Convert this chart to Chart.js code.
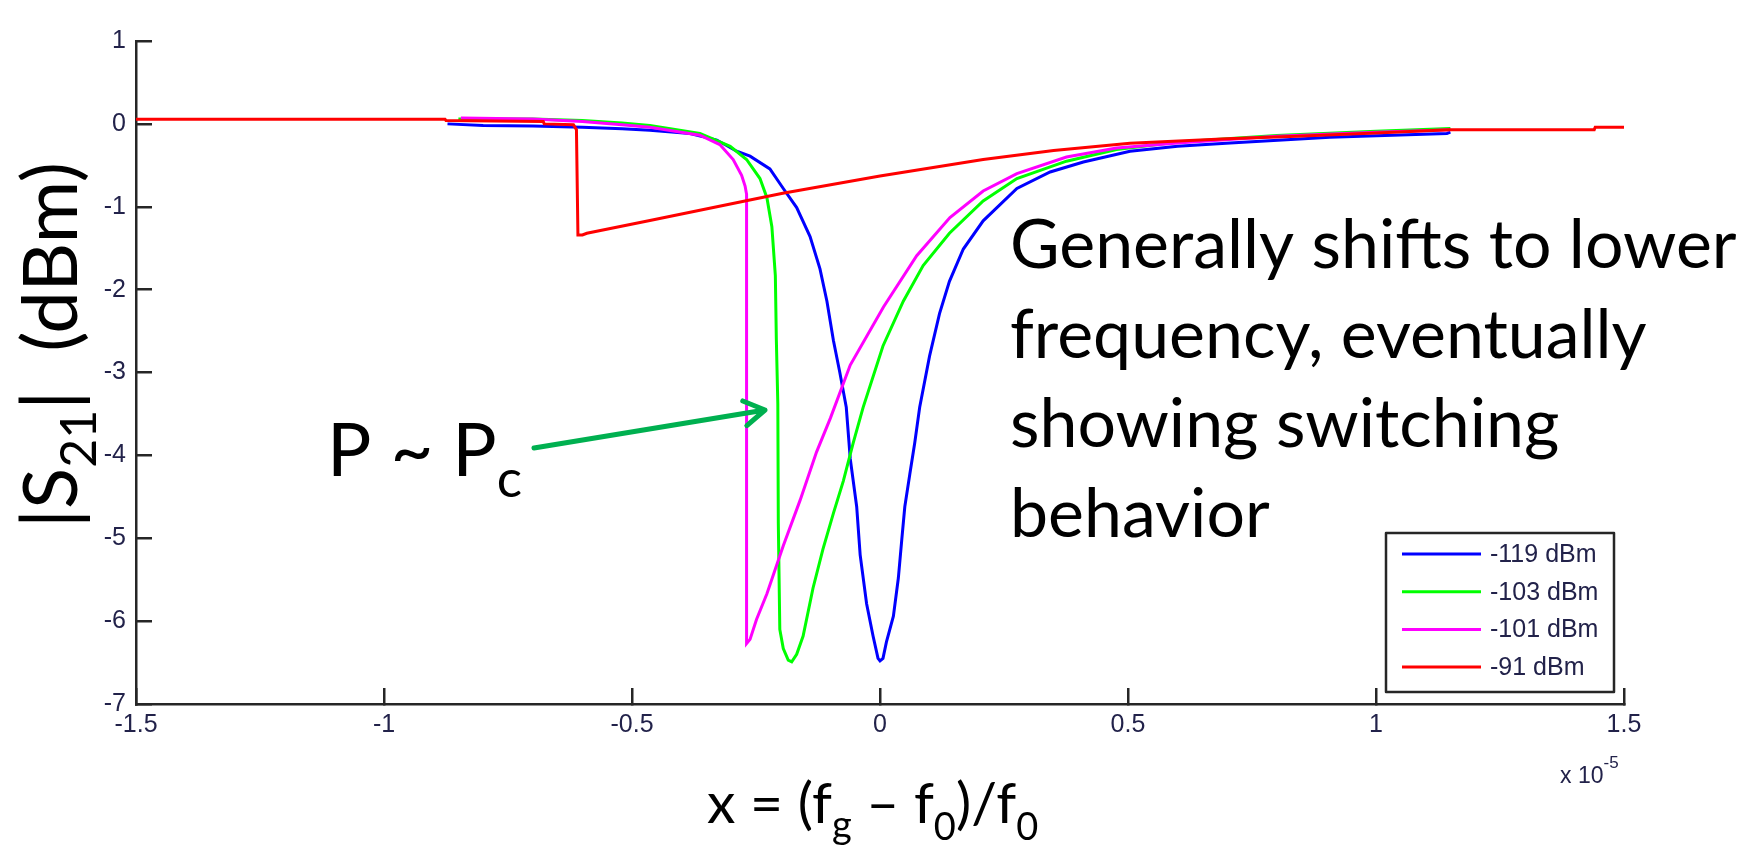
<!DOCTYPE html>
<html>
<head>
<meta charset="utf-8">
<title>|S21| vs detuning</title>
<script src="https://cdn.jsdelivr.net/npm/chart.js@4.4.1/dist/chart.umd.min.js"></script>
<style>
    html, body { margin: 0; padding: 0; background: #ffffff; }
    #chartBox { width: 1762px; height: 845px; }
</style>
</head>
<body>
<div id="chartBox"><canvas id="s21Chart" width="1762" height="845"></canvas></div>
<script>
// Values (x in units of 1e-5, y in dB)
const seriesLabels = ['-119 dBm', '-103 dBm', '-101 dBm', '-91 dBm'];
const seriesColors = ['#0000ff', '#00ff00', '#ff00ff', '#ff0000'];

const blueX = [-0.872, -0.80, -0.70, -0.60, -0.52, -0.464, -0.383, -0.329, -0.289, -0.262,
    -0.222, -0.195, -0.168, -0.141, -0.121, -0.107, -0.094, -0.081, -0.068, -0.060,
    -0.047, -0.040, -0.027, -0.014, -0.004, 0.000, 0.006, 0.013, 0.027, 0.037,
    0.044, 0.050, 0.060, 0.070, 0.080, 0.100, 0.120, 0.140, 0.168, 0.208,
    0.276, 0.343, 0.410, 0.504, 0.600, 0.706, 0.907, 1.143, 1.150];
const blueY = [0.00, -0.02, -0.025, -0.04, -0.06, -0.078, -0.117, -0.195, -0.33, -0.39,
    -0.544, -0.78, -1.01, -1.36, -1.75, -2.14, -2.61, -3.00, -3.42, -4.04,
    -4.62, -5.20, -5.79, -6.18, -6.45, -6.48, -6.45, -6.25, -5.94, -5.48,
    -5.01, -4.62, -4.23, -3.85, -3.42, -2.80, -2.29, -1.90, -1.51, -1.17,
    -0.78, -0.58, -0.46, -0.33, -0.27, -0.23, -0.16, -0.115, -0.10];

const greenX = [-0.850, -0.700, -0.600, -0.520, -0.464, -0.363, -0.302, -0.269, -0.242, -0.228,
    -0.218, -0.211, -0.209, -0.206, -0.205, -0.202, -0.195, -0.185, -0.178, -0.168,
    -0.155, -0.135, -0.115, -0.094, -0.074, -0.054, -0.034, 0.006, 0.047, 0.087,
    0.140, 0.208, 0.276, 0.376, 0.477, 0.600, 0.800, 1.000, 1.150];
const greenY = [0.06, 0.06, 0.04, 0.01, -0.02, -0.115, -0.27, -0.43, -0.66, -0.89,
    -1.24, -1.83, -2.60, -3.38, -4.82, -6.10, -6.33, -6.47, -6.49, -6.40,
    -6.18, -5.60, -5.13, -4.70, -4.31, -3.85, -3.42, -2.68, -2.14, -1.71,
    -1.32, -0.93, -0.66, -0.45, -0.31, -0.22, -0.14, -0.09, -0.055];

const magentaX = [-0.845, -0.700, -0.600, -0.520, -0.464, -0.363, -0.323, -0.296, -0.279, -0.272,
    -0.269, -0.269, -0.262, -0.249, -0.228, -0.195, -0.161, -0.128, -0.100, -0.060,
    0.007, 0.074, 0.141, 0.208, 0.276, 0.376, 0.477, 0.600, 0.800, 1.000, 1.150];
const magentaY = [0.07, 0.06, 0.03, -0.01, -0.04, -0.136, -0.25, -0.43, -0.62, -0.75,
    -0.85, -6.27, -6.22, -5.98, -5.67, -5.09, -4.54, -3.96, -3.55, -2.91,
    -2.21, -1.59, -1.13, -0.81, -0.60, -0.40, -0.29, -0.23, -0.15, -0.10, -0.07];

const redX = [-1.500, -0.877, -0.875, -0.679, -0.677, -0.618, -0.612, -0.609, -0.600, -0.591,
    -0.464, -0.196, 0.000, 0.208, 0.350, 0.504, 0.700, 0.840, 1.000, 1.149,
    1.440, 1.442, 1.500];
const redY = [0.055, 0.055, 0.04, 0.03, 0.00, -0.01, -0.07, -1.34, -1.34, -1.32,
    -1.166, -0.836, -0.63, -0.43, -0.32, -0.233, -0.18, -0.148, -0.11, -0.07,
    -0.07, -0.04, -0.04];

const xTickValues = [-1.5, -1, -0.5, 0, 0.5, 1, 1.5];
const yTickValues = [1, 0, -1, -2, -3, -4, -5, -6, -7];

const noteLines = ['Generally shifts to lower', 'frequency, eventually', 'showing switching', 'behavior'];

const tickFont = '"Liberation Sans", Arial, sans-serif';
const textFont = 'Lato, "Open Sans", sans-serif';
const tickColor = '#22224a';
const axisColor = '#262626';

document.addEventListener('DOMContentLoaded', function() {
    initS21Chart();
});

function toPoints(xs, ys) {
    return xs.map(function(x, i) { return { x: x, y: ys[i] }; });
}

// draws text pieces one after another, for sub/superscripts
function drawRuns(ctx, x, y, runs, family) {
    let cx = x;
    runs.forEach(function(r) {
        ctx.font = r.size + 'px ' + family;
        ctx.fillText(r.t, cx, y + (r.dy || 0));
        cx += ctx.measureText(r.t).width;
    });
}

const overlayPlugin = {
    id: 'overlay',
    afterDraw: function(chart) {
        const ctx = chart.ctx;
        ctx.save();
        ctx.fillStyle = '#000000';
        ctx.textBaseline = 'alphabetic';
        ctx.textAlign = 'left';

        // y axis title, rotated
        ctx.save();
        ctx.translate(77, 528);
        ctx.rotate(-Math.PI / 2);
        drawRuns(ctx, 0, 0, [
            { t: '|S', size: 76 },
            { t: '21', size: 50, dy: 19 },
            { t: '|  (dBm)', size: 76 }
        ], textFont);
        ctx.restore();

        // x axis title
        drawRuns(ctx, 707, 823, [
            { t: 'x = (f', size: 57 },
            { t: 'g', size: 38, dy: 15 },
            { t: ' \u2013 f', size: 57 },
            { t: '0', size: 38, dy: 17 },
            { t: ')/f', size: 57 },
            { t: '0', size: 38, dy: 17 }
        ], textFont);

        // note text
        ctx.font = '68px ' + textFont;
        noteLines.forEach(function(line, i) {
            ctx.fillText(line, 1010, 268 + i * 89.7);
        });

        // P ~ Pc label and arrow
        drawRuns(ctx, 327, 476, [
            { t: 'P ~ P', size: 74 },
            { t: 'c', size: 53, dy: 21 }
        ], textFont);
        drawArrow(ctx, 534, 448, 765, 410);

        // x 10^-5 multiplier
        ctx.fillStyle = tickColor;
        drawRuns(ctx, 1560, 783, [
            { t: 'x 10', size: 23 },
            { t: '-5', size: 17, dy: -15 }
        ], tickFont);

        drawLegendBox(ctx, chart);
        ctx.restore();
    }
};

function drawArrow(ctx, x1, y1, x2, y2) {
    const ang = Math.atan2(y2 - y1, x2 - x1);
    const head = 24;
    ctx.strokeStyle = '#00b050';
    ctx.lineWidth = 5;
    ctx.lineCap = 'round';
    ctx.lineJoin = 'round';
    ctx.beginPath();
    ctx.moveTo(x1, y1);
    ctx.lineTo(x2, y2);
    ctx.moveTo(x2 - head * Math.cos(ang - 0.55), y2 - head * Math.sin(ang - 0.55));
    ctx.lineTo(x2, y2);
    ctx.lineTo(x2 - head * Math.cos(ang + 0.55), y2 - head * Math.sin(ang + 0.55));
    ctx.stroke();
}

function drawLegendBox(ctx, chart) {
    const left = 1386, top = 533, w = 228, h = 159;
    ctx.fillStyle = '#ffffff';
    ctx.fillRect(left, top, w, h);
    ctx.strokeStyle = axisColor;
    ctx.lineWidth = 2.5;
    ctx.strokeRect(left, top, w, h);

    ctx.font = '25px ' + tickFont;
    ctx.textBaseline = 'middle';
    chart.data.datasets.forEach(function(ds, i) {
        const y = 554 + i * 37.7;
        ctx.strokeStyle = ds.borderColor;
        ctx.lineWidth = 3;
        ctx.lineCap = 'butt';
        ctx.beginPath();
        ctx.moveTo(1402, y);
        ctx.lineTo(1481, y);
        ctx.stroke();
        ctx.fillStyle = tickColor;
        ctx.fillText(ds.label, 1490, y + 1);
    });
}

function initS21Chart() {
    const ctx = document.getElementById('s21Chart').getContext('2d');

    const seriesData = [
        toPoints(blueX, blueY),
        toPoints(greenX, greenY),
        toPoints(magentaX, magentaY),
        toPoints(redX, redY)
    ];

    window.s21Chart = new Chart(ctx, {
        type: 'scatter',
        data: {
            datasets: seriesData.map(function(pts, i) {
                return {
                    label: seriesLabels[i],
                    data: pts,
                    showLine: true,
                    borderColor: seriesColors[i],
                    backgroundColor: seriesColors[i],
                    borderWidth: 3,
                    pointRadius: 0,
                    tension: 0,
                    // later series on top, like the original plot
                    order: seriesData.length - 1 - i
                };
            })
        },
        options: {
            responsive: false,
            animation: false,
            devicePixelRatio: 1,
            layout: { padding: { top: 18, right: 138, left: 0, bottom: 0 } },
            plugins: {
                legend: { display: false },
                tooltip: { enabled: false }
            },
            scales: {
                x: {
                    type: 'linear',
                    min: -1.5,
                    max: 1.5,
                    afterBuildTicks: function(scale) {
                        scale.ticks = xTickValues.map(function(v) { return { value: v }; });
                    },
                    afterFit: function(scale) { scale.height = 141; },
                    ticks: {
                        font: { family: tickFont, size: 25 },
                        color: tickColor,
                        padding: 22,
                        maxRotation: 0,
                        autoSkip: false,
                        callback: function(v) { return String(v); }
                    },
                    grid: { drawOnChartArea: false, tickLength: -16, color: axisColor, lineWidth: 2.5 },
                    border: { color: axisColor, width: 2.5 }
                },
                y: {
                    type: 'linear',
                    min: -7,
                    max: 1,
                    afterBuildTicks: function(scale) {
                        scale.ticks = yTickValues.map(function(v) { return { value: v }; });
                    },
                    afterFit: function(scale) { scale.width = 136; },
                    ticks: {
                        font: { family: tickFont, size: 25 },
                        color: tickColor,
                        padding: 26,
                        autoSkip: false,
                        callback: function(v) { return String(v); }
                    },
                    grid: { drawOnChartArea: false, tickLength: -16, color: axisColor, lineWidth: 2.5 },
                    border: { color: axisColor, width: 2.5 }
                }
            }
        },
        plugins: [overlayPlugin]
    });
}
</script>
</body>
</html>
